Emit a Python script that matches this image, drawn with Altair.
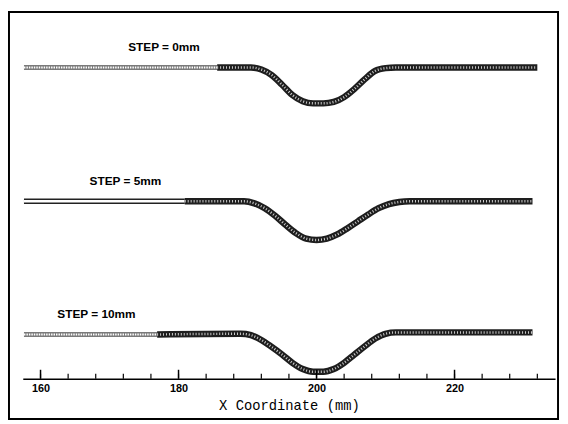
import altair as alt
import pandas as pd

# ---- data ----
profiles = ["STEP = 0mm", "STEP = 5mm", "STEP = 10mm"]

step0_x = [157.6, 185.6, 190.5, 192.0, 193.5, 195.0, 196.5, 198.0, 199.5, 201.0, 202.5,
           204.0, 205.5, 207.0, 208.5, 210.0, 211.5, 232.0]
step0_y = [45.1, 45.1, 45.1, 44.8, 44.0, 42.6, 41.1, 40.2, 39.9, 39.9, 40.1,
           40.8, 42.0, 43.4, 44.6, 45.0, 45.1, 45.1]

step5_x = [157.6, 180.9, 189.5, 191.0, 192.5, 194.0, 195.5, 197.0, 198.5, 200.0, 201.5,
           203.0, 204.5, 206.0, 207.5, 209.0, 210.5, 212.0, 213.5, 231.3]
step5_y = [25.7, 25.7, 25.7, 25.4, 24.7, 23.6, 22.3, 21.1, 20.3, 20.1, 20.3,
           20.9, 21.8, 22.8, 23.8, 24.7, 25.3, 25.6, 25.7, 25.7]

step10_x = [157.6, 176.9, 189.0, 190.5, 192.0, 193.5, 195.0, 196.5, 198.0, 199.5, 201.0,
            202.5, 204.0, 205.5, 207.0, 208.5, 210.0, 211.5, 231.3]
step10_y = [6.4, 6.4, 6.5, 6.3, 5.6, 4.6, 3.5, 2.3, 1.4, 1.0, 1.0,
            1.4, 2.3, 3.5, 4.7, 5.8, 6.5, 6.7, 6.7]

# x where the coarse (light) mesh turns into the fine (dark) mesh
transitions = [185.6, 180.9, 176.9]

label_x = [177.9, 172.3, 168.1]
label_y = [48.0, 28.6, 9.3]

major_ticks = [160, 180, 200, 220]
minor_ticks = [160, 164, 168, 172, 176, 180, 184, 188, 192, 196, 200, 204, 208,
               212, 216, 220, 224, 228, 232]

# ---- build tables ----
rows = []
for name, xs, ys, t in zip(profiles, [step0_x, step5_x, step10_x],
                           [step0_y, step5_y, step10_y], transitions):
    for x, y in zip(xs, ys):
        if x <= t:
            rows.append({"profile": name, "part": "light", "x": x, "y": y})
        if x >= t:
            rows.append({"profile": name, "part": "dark", "x": x, "y": y})
df = pd.DataFrame(rows)
labels_df = pd.DataFrame({"label": profiles, "x": label_x, "y": label_y})
major_df = pd.DataFrame({"x": major_ticks})
minor_df = pd.DataFrame({"x": minor_ticks})

W, H = 540, 372
xscale = alt.Scale(domain=[160 - 18 / 7, 160 + 522 / 7], nice=False, zero=False)
yscale = alt.Scale(domain=[0, H / 7], nice=False, zero=False)
xaxis = alt.Axis(values=major_ticks, grid=False, ticks=False, domainColor="black",
                 domainWidth=1.5, labelFont="Liberation Sans", labelFontWeight="bold",
                 labelFontSize=11, labelColor="black", labelPadding=4,
                 title="X Coordinate (mm)", titleFont="Liberation Mono",
                 titleFontSize=14, titleFontWeight="normal", titleColor="black",
                 titlePadding=5)

X = alt.X("x:Q", scale=xscale, axis=xaxis)
Y = alt.Y("y:Q", scale=yscale, axis=None)

base = alt.Chart(df)


def band(filter_pred, color, width, dash=None):
    kw = dict(color=color, strokeWidth=width, interpolate="monotone", strokeCap="butt")
    if dash:
        kw["strokeDash"] = dash
    return base.transform_filter(filter_pred).mark_line(**kw).encode(
        x=X, y=Y, detail="profile:N")


light_grey = alt.FieldOneOfPredicate(field="profile", oneOf=["STEP = 0mm", "STEP = 10mm"])
light_5 = alt.FieldEqualPredicate(field="profile", equal="STEP = 5mm")
is_light = alt.FieldEqualPredicate(field="part", equal="light")
is_dark = alt.FieldEqualPredicate(field="part", equal="dark")

layers = [
    band(alt.LogicalAndPredicate(**{"and": [is_light, light_grey]}), "#7a7a7a", 5),
    band(alt.LogicalAndPredicate(**{"and": [is_light, light_grey]}), "#ffffff", 2, [1.5, 1]),
    band(alt.LogicalAndPredicate(**{"and": [is_light, light_5]}), "#222222", 5.5),
    band(alt.LogicalAndPredicate(**{"and": [is_light, light_5]}), "#ffffff", 2.5),
    band(is_dark, "#1e1e1e", 6.5),
    band(is_dark, "#cfcfcf", 2.5, [1, 2]),
]

minor = alt.Chart(minor_df).mark_rule(color="black", strokeWidth=1.2).encode(
    x=X, y=alt.value(H - 5), y2=alt.value(H))
major = alt.Chart(major_df).mark_rule(color="black", strokeWidth=1.5).encode(
    x=X, y=alt.value(H - 9), y2=alt.value(H))

texts = alt.Chart(labels_df).mark_text(font="Liberation Sans", fontWeight="bold",
                                       fontSize=12, color="black", align="center",
                                       baseline="middle").encode(x=X, y=Y, text="label:N")

frame = alt.Chart(pd.DataFrame({"a": [0]})).mark_rect(
    fillOpacity=0, stroke="black", strokeWidth=2).encode(
    x=alt.value(-14), x2=alt.value(543), y=alt.value(0), y2=alt.value(413))

chart = alt.layer(*layers, minor, major, texts, frame).properties(
    width=W, height=H,
    autosize=alt.AutoSizeParams(type="none"),
    padding={"left": 15, "top": 1, "right": 5, "bottom": 43},
    background="white",
).configure_view(stroke=None)

chart.save("out.html", embed_options={"renderer": "svg", "actions": False})
